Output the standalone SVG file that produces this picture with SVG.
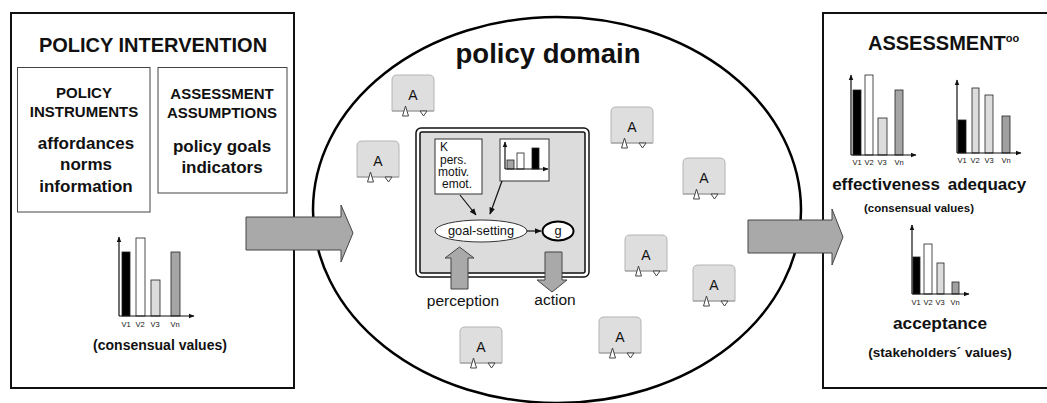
<svg xmlns="http://www.w3.org/2000/svg" width="1047" height="403" viewBox="0 0 1047 403">
<style>
  text { font-family: "Liberation Sans", Arial, sans-serif; fill: #111; }
  .b { font-weight: bold; }
  .frame { fill: #fff; stroke: #111; stroke-width: 2; }
  .sub { fill: #fff; stroke: #444; stroke-width: 1; }
  .agent { fill: #dedede; stroke: #b4b4b4; stroke-width: 1; }
  .tri { fill: #fff; stroke: #444; stroke-width: 1; }
  .big { fill: #a9a9a9; stroke: #444; stroke-width: 1; }
  .axis { fill: none; stroke: #111; stroke-width: 1.2; }
  .bar { stroke: #222; stroke-width: 0.8; }
  .lbl { font-size: 7.5px; text-anchor: middle; }
  .c { text-anchor: middle; }
  .line { fill: none; stroke: #111; stroke-width: 1.2; }
</style>
<defs>
  <marker id="ah" viewBox="0 0 10 10" refX="9" refY="5" markerWidth="5" markerHeight="5" orient="auto">
    <path d="M0,1 L10,5 L0,9 Z" fill="#111"/>
  </marker>
  <marker id="ah2" viewBox="0 0 10 10" refX="9" refY="5" markerWidth="6" markerHeight="6" orient="auto">
    <path d="M0,1 L10,5 L0,9 Z" fill="#111"/>
  </marker>
  <g id="agent">
    <path class="agent" d="M0,36 V5 Q0,0 5,0 H37 Q42,0 42,5 V36 Z"/>
    <line x1="0" y1="36" x2="42" y2="36" stroke="#999" stroke-width="1"/>
    <polygon class="tri" points="10.5,41 13.5,31 16.5,41"/>
    <polygon class="tri" points="28,36 35,36 31.5,41"/>
    <text x="21" y="25" class="c" font-size="14">A</text>
  </g>
</defs>

<!-- Policy intervention -->
<g id="policy-intervention">
  <rect class="frame" x="11" y="13" width="283" height="375"/>
  <text x="153" y="52" class="b c" font-size="20">POLICY INTERVENTION</text>
  <rect class="sub" x="17.5" y="67.5" width="132.5" height="144.5"/>
  <text x="84" y="98" class="b c" font-size="15">POLICY</text>
  <text x="84" y="117" class="b c" font-size="15">INSTRUMENTS</text>
  <text x="86" y="149" class="b c" font-size="17">affordances</text>
  <text x="86" y="170" class="b c" font-size="17">norms</text>
  <text x="86" y="192" class="b c" font-size="17">information</text>
  <rect class="sub" x="158" y="67.5" width="129" height="125.5"/>
  <text x="222" y="99" class="b c" font-size="15">ASSESSMENT</text>
  <text x="222" y="118" class="b c" font-size="15">ASSUMPTIONS</text>
  <text x="222" y="152" class="b c" font-size="17">policy goals</text>
  <text x="222" y="173" class="b c" font-size="17">indicators</text>
  <g id="chart-consensual-left">
    <rect class="bar" x="122" y="252" width="8" height="64" fill="#000"/>
    <rect class="bar" x="136" y="238" width="9" height="78" fill="#fff"/>
    <rect class="bar" x="151" y="280" width="9" height="36" fill="#dcdcdc"/>
    <rect class="bar" x="171" y="252" width="9" height="64" fill="#a5a5a5"/>
    <path class="axis" d="M119,316 V237" marker-end="url(#ah)"/>
    <path class="axis" d="M119,316 H194" marker-end="url(#ah)"/>
    <text x="126" y="327" class="lbl">V1</text>
    <text x="140" y="327" class="lbl">V2</text>
    <text x="155" y="327" class="lbl">V3</text>
    <text x="175" y="327" class="lbl">Vn</text>
  </g>
  <text x="160" y="350" class="b c" font-size="14">(consensual values)</text>
</g>

<!-- Policy domain -->
<g id="policy-domain">
  <ellipse cx="557" cy="210" rx="244" ry="193" fill="#fff" stroke="#000" stroke-width="2.5"/>
  <text x="548" y="63" class="b c" font-size="27.5">policy domain</text>
</g>

<!-- Agents -->
<use id="agent-1" href="#agent" x="392" y="75"/>
<use id="agent-2" href="#agent" x="357" y="141"/>
<use id="agent-3" href="#agent" x="611" y="107"/>
<use id="agent-4" href="#agent" x="683" y="158"/>
<use id="agent-5" href="#agent" x="625" y="235"/>
<use id="agent-6" href="#agent" x="693" y="265"/>
<use id="agent-7" href="#agent" x="599" y="317"/>
<use id="agent-8" href="#agent" x="460" y="327"/>

<!-- Zoomed agent -->
<g id="agent-detail">
  <rect x="416" y="128" width="173" height="149" rx="5" fill="#fff" stroke="#111" stroke-width="1.5"/>
  <rect x="420" y="132" width="165" height="141" rx="2" fill="#dcdcdc" stroke="#111" stroke-width="1.5"/>
  <g id="knowledge-box">
    <rect x="435" y="139" width="47" height="55" fill="#fff" stroke="#333" stroke-width="1"/>
    <text x="440" y="151" font-size="12">K</text>
    <text x="440" y="164" font-size="12">pers.</text>
    <text x="438" y="176" font-size="12">motiv.</text>
    <text x="442" y="188" font-size="12">emot.</text>
  </g>
  <g id="values-box">
    <rect x="500" y="139" width="49" height="42" fill="#fff" stroke="#333" stroke-width="1"/>
    <rect class="bar" x="507" y="160" width="7" height="9" fill="#a5a5a5"/>
    <rect class="bar" x="517" y="153" width="7" height="16" fill="#fff"/>
    <rect class="bar" x="532" y="148" width="7" height="21" fill="#000"/>
    <path class="axis" d="M505,169 V142" marker-end="url(#ah)"/>
    <path class="axis" d="M505,169 H548" marker-end="url(#ah)"/>
  </g>
  <g id="goal-setting">
    <ellipse cx="481" cy="231" rx="46" ry="11" fill="#fff" stroke="#333" stroke-width="1"/>
    <text x="481" y="235" class="c" font-size="12.8">goal-setting</text>
  </g>
  <g id="goal">
    <ellipse cx="558" cy="231" rx="15.5" ry="9.5" fill="#fff" stroke="#000" stroke-width="2"/>
    <text x="558" y="235" class="c" font-size="12.8">g</text>
  </g>
  <text x="463" y="306" class="c" font-size="15.5">perception</text>
  <text x="555" y="305" class="c" font-size="15.5">action</text>
</g>

<!-- Assessment -->
<g id="assessment">
  <rect class="frame" x="823" y="13" width="230" height="375"/>
  <text x="868" y="50" class="b" font-size="20">ASSESSMENT<tspan font-size="11" dy="-8">oo</tspan></text>
  <g id="chart-effectiveness">
    <rect class="bar" x="853" y="90" width="8" height="65" fill="#000"/>
    <rect class="bar" x="865" y="75" width="8" height="80" fill="#fff"/>
    <rect class="bar" x="878" y="118" width="9" height="37" fill="#dcdcdc"/>
    <rect class="bar" x="895" y="90" width="8" height="65" fill="#a5a5a5"/>
    <path class="axis" d="M851,155 V75" marker-end="url(#ah)"/>
    <path class="axis" d="M851,155 H916" marker-end="url(#ah)"/>
    <text x="857" y="165" class="lbl">V1</text>
    <text x="869" y="165" class="lbl">V2</text>
    <text x="882" y="165" class="lbl">V3</text>
    <text x="899" y="165" class="lbl">Vn</text>
  </g>
  <g id="chart-adequacy">
    <rect class="bar" x="958" y="120" width="8" height="33" fill="#000"/>
    <rect class="bar" x="972" y="88" width="7" height="65" fill="#dcdcdc"/>
    <rect class="bar" x="985" y="95" width="8" height="58" fill="#dcdcdc"/>
    <rect class="bar" x="1002" y="116" width="8" height="37" fill="#a0a0a0"/>
    <path class="axis" d="M957,153 V80" marker-end="url(#ah)"/>
    <path class="axis" d="M957,153 H1021" marker-end="url(#ah)"/>
    <text x="962" y="163" class="lbl">V1</text>
    <text x="975" y="163" class="lbl">V2</text>
    <text x="989" y="163" class="lbl">V3</text>
    <text x="1006" y="163" class="lbl">Vn</text>
  </g>
  <text x="886" y="190" class="b c" font-size="17">effectiveness</text>
  <text x="987" y="190" class="b c" font-size="17">adequacy</text>
  <text x="919" y="212" class="b c" font-size="11.5">(consensual values)</text>
  <g id="chart-acceptance">
    <rect class="bar" x="913" y="257" width="7" height="37" fill="#000"/>
    <rect class="bar" x="924" y="244" width="8" height="50" fill="#fff"/>
    <rect class="bar" x="937" y="263" width="7" height="31" fill="#dcdcdc"/>
    <rect class="bar" x="952" y="282" width="7" height="12" fill="#a0a0a0"/>
    <path class="axis" d="M912,294 V225" marker-end="url(#ah)"/>
    <path class="axis" d="M912,294 H969" marker-end="url(#ah)"/>
    <text x="916" y="305" class="lbl">V1</text>
    <text x="928" y="305" class="lbl">V2</text>
    <text x="940" y="305" class="lbl">V3</text>
    <text x="955" y="305" class="lbl">Vn</text>
  </g>
  <text x="940" y="329" class="b c" font-size="17.3">acceptance</text>
  <text x="940" y="357" class="b c" font-size="13.6">(stakeholders´ values)</text>
</g>

<!-- Connectors -->
<g id="connectors">
  <path class="big" d="M246,217 H341 V205 L353,233 L341,262 V250 H246 Z"/>
  <path class="big" d="M748,220 H832 V209 L843,237 L832,265 V253 H748 Z"/>
  <path class="line" d="M460,195 L476,215" marker-end="url(#ah2)"/>
  <path class="line" d="M502,181 L490,214" marker-end="url(#ah2)"/>
  <path class="line" d="M527,231 H541" marker-end="url(#ah2)"/>
  <path class="big" d="M451,289 V258 H445 L459.5,247 L474,258 H468 V289 Z"/>
  <path class="big" d="M545,252 H562 V280 H567 L552,292 L537,280 H545 Z"/>
</g>
</svg>
